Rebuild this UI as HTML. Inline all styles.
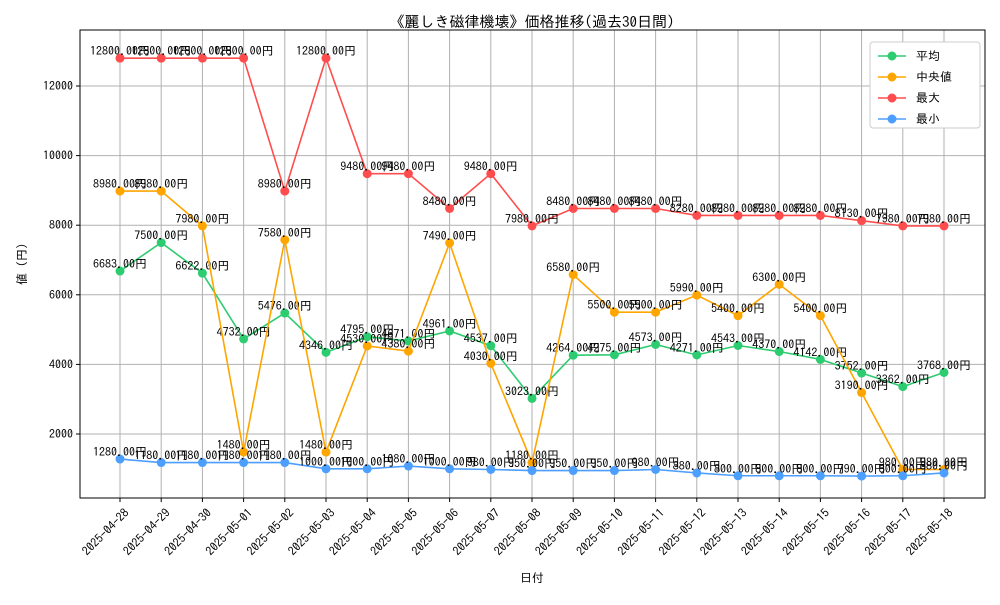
<!DOCTYPE html>
<html><head><meta charset="utf-8"><style>
body{margin:0;background:#fff;}
svg{font-family:"IPAGothic","Noto Sans CJK JP",sans-serif;}
</style></head><body>
<svg id="c" width="1000" height="600" xmlns="http://www.w3.org/2000/svg">
<rect width="1000" height="600" fill="#fff"/>
<text x="532" y="27" text-anchor="middle" font-size="15" fill="#000">《麗しき磁律機壊》価格推移(過去30日間)</text>
<text x="532" y="582" text-anchor="middle" font-size="12">日付</text>
<text transform="translate(26,264) rotate(-90)" text-anchor="middle" font-size="12">値 (円)</text>
<g id="grid"></g><g id="series"></g>
<rect x="80" y="30" width="905" height="468" fill="none" stroke="#000" stroke-width="1"/>
<g id="legend"></g>
</svg>
<script>
const dates=["2025-04-28","2025-04-29","2025-04-30","2025-05-01","2025-05-02","2025-05-03","2025-05-04","2025-05-05","2025-05-06","2025-05-07","2025-05-08","2025-05-09","2025-05-10","2025-05-11","2025-05-12","2025-05-13","2025-05-14","2025-05-15","2025-05-16","2025-05-17","2025-05-18"];
const avgVals=[6683,7500,6622,4732,5476,4346,4795,4671,4961,4537,3023,4264,4275,4573,4271,4543,4370,4142,3752,3362,3768];
const medVals=[8980,8980,7980,1480,7580,1480,4530,4380,7490,4030,1180,6580,5500,5500,5990,5400,6300,5400,3190,980,980];
const maxVals=[12800,12800,12800,12800,8980,12800,9480,9480,8480,9480,7980,8480,8480,8480,8280,8280,8280,8280,8130,7980,7980];
const minVals=[1280,1180,1180,1180,1180,1000,1000,1080,1000,980,950,950,950,980,880,800,800,800,790,800,880];
const yTicks=[2000,4000,6000,8000,10000,12000];
const seriesNames=["平均","中央値","最大","最小"];
const colors=["#2ecc71","#ffa500","#ff4d4d","#4d9fff"];
const NS="http://www.w3.org/2000/svg";
const xs=i=>120+i*(944-120)/(dates.length-1);
const ys=v=>503.6-v*0.0348;
function mk(t,a,p){const e=document.createElementNS(NS,t);for(const k in a)e.setAttribute(k,a[k]);p.appendChild(e);return e;}
const g=document.getElementById('grid');
dates.forEach((d,i)=>{const x=xs(i);
 const l=mk('line',{x1:x,x2:x,y1:30,y2:498,stroke:'#b0b0b0','stroke-width':1},g);
 
 mk('line',{x1:x,x2:x,y1:498,y2:502,stroke:'#000'},g);
 const t=mk('text',{transform:`translate(${x+4},${508}) rotate(-45)`,'text-anchor':'end','font-size':12,'dominant-baseline':'hanging'},g);
 t.textContent=d;});
yTicks.forEach(v=>{const y=ys(v);
 const l=mk('line',{x1:80,x2:985,y1:y,y2:y,stroke:'#b0b0b0','stroke-width':1},g);
 
 mk('line',{x1:76,x2:80,y1:y,y2:y,stroke:'#000'},g);
 const t=mk('text',{x:73,y:y+4,'text-anchor':'end','font-size':12},g);
 t.textContent=v;});
const s=document.getElementById('series');
[avgVals,medVals,maxVals,minVals].forEach((arr,k)=>{
 const grp=mk('g',{},s);
 const pl=mk('polyline',{points:arr.map((v,i)=>xs(i)+','+ys(v)).join(' '),fill:'none',stroke:colors[k],'stroke-width':1.6},grp);
 
 arr.forEach((v,i)=>{const c=mk('circle',{cx:xs(i),cy:ys(v),r:4.5,fill:colors[k]},grp);
  
  const t=mk('text',{x:xs(i),y:ys(v)-3,'text-anchor':'middle','font-size':12},grp);
  t.textContent=v+'.00円';});
});
const lg=document.getElementById('legend');
mk('rect',{x:870,y:42,width:110,height:86,fill:'#fff',stroke:'#ccc',rx:3},lg);
seriesNames.forEach((n,k)=>{const y=56+k*21;
 const e=mk('g',{},lg);
 mk('line',{x1:878,x2:906,y1:y,y2:y,stroke:colors[k],'stroke-width':1.6},e);
 mk('circle',{cx:892,cy:y,r:4.5,fill:colors[k]},e);
 const t=mk('text',{x:916,y:y+4,'font-size':12},e);t.textContent=n;});
</script>
</body></html>
